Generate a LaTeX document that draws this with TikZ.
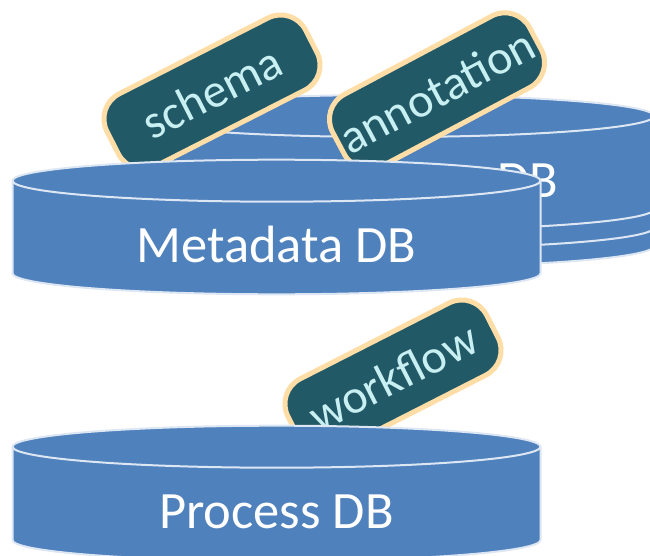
\documentclass[tikz,border=0pt]{standalone}
\usepackage{fontspec}
\setmainfont{Carlito}

\definecolor{dbblue}{HTML}{4F81BD}
\definecolor{dbedge}{HTML}{DDE7F3}
\definecolor{tagfill}{HTML}{215967}
\definecolor{tagedge}{HTML}{FFDDA6}
\definecolor{tagtext}{HTML}{C8EFF1}

\tikzset{
  dbbody/.style={fill=dbblue, draw=dbedge, line width=2pt, line join=round},
  dbrim/.style={draw=dbedge, line width=2pt},
  dblabel/.style={text=white, font=\fontsize{52.5}{60}\selectfont, anchor=base, inner sep=0pt},
  tag/.style={rectangle, rounded corners=28pt, fill=tagfill, draw=tagedge,
    line width=5pt, minimum width=223pt, minimum height=81pt, inner sep=0pt,
    text=tagtext, font=\fontsize{48}{56}\selectfont},
}

% database cylinder: #1 centre x, #2 centre y of the top ellipse, #3 body height
\newcommand\drawdb[3]{%
  \filldraw[dbbody] (#1-264,#2)
    arc[start angle=180, end angle=360, x radius=264, y radius=21]
    -- (#1+264,#2+#3)
    arc[start angle=0, end angle=180, x radius=264, y radius=21]
    -- cycle;
  \draw[dbrim] (#1-264,#2)
    arc[start angle=180, end angle=0, x radius=264, y radius=21];
}

\begin{document}
\begin{tikzpicture}[x=1pt, y=-1pt]
\useasboundingbox (0,0) rectangle (650,556);
\clip (0,0) rectangle (650,556);

% stacked database at the back
\drawdb{390}{153}{93}
\drawdb{390}{134.5}{93}
\drawdb{390}{116}{93}
\node[dblabel] (backdb) at (527.5,197) {DB};

% tags over the back stack
\node[tag, rotate=27] (schema) at (212,92) {schema};
\node[tag, rotate=28] (annotation) at (437,91) {annotation};

% metadata database
\drawdb{276.5}{180.7}{92.6}
\node[dblabel] (metadb) at (276.5,262) {Metadata DB};

% workflow tag behind the process database
\node[tag, rotate=27] (workflow) at (393,377) {workflow};

% process database
\drawdb{276.5}{446.7}{93.3}
\node[dblabel] (procdb) at (276.5,528.5) {Process DB};
\end{tikzpicture}
\end{document}
